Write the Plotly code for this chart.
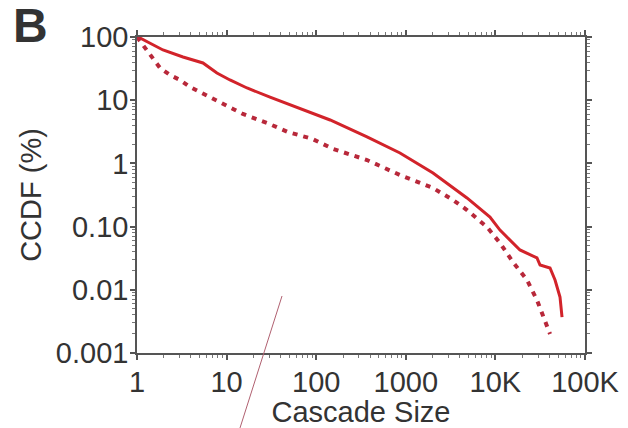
import plotly.graph_objects as go

# Cascade size (x) and CCDF in percent (y)
solid_size = [1, 1.08, 1.95, 3.26, 5.45, 7.8, 10.9, 16.9, 30.5, 61, 143, 369, 861,
              2013, 4818, 8700, 11250, 18800, 29100, 31500, 40700, 46300, 52600, 55400]
solid_ccdf = [100, 96.4, 62.3, 48.2, 38.8, 26.9, 20.9, 15.6, 11.2, 7.8, 4.86, 2.62, 1.46,
              0.705, 0.284, 0.142, 0.088, 0.0427, 0.0319, 0.0247, 0.0221, 0.0143, 0.0077, 0.0037]

dotted_size = [1, 1.23, 1.51, 1.81, 2.33, 3.02, 3.9, 5.05, 6.87, 9.12, 11.8, 15.2, 28.3,
               48.4, 89.8, 154, 369, 861, 2013, 3365, 4818, 8050, 11250, 15700, 22500,
               29100, 34000, 40700]
dotted_ccdf = [100, 67, 46.5, 32.3, 25.1, 20.9, 16.2, 13.5, 10.8, 9.04, 7.26, 6.05, 4.36,
               3.14, 2.45, 1.7, 1.13, 0.655, 0.408, 0.264, 0.183, 0.0986, 0.055, 0.0275,
               0.0143, 0.0069, 0.0037, 0.002]

x_tickvals = [1, 10, 100, 1000, 10000, 100000]
x_ticktext = ["1", "10", "100", "1000", "10K", "100K"]
y_tickvals = [0.001, 0.01, 0.1, 1, 10, 100]
y_ticktext = ["0.001", "0.01", "0.10", "1", "10", "100"]

FONT = "Liberation Sans, Arial, sans-serif"

fig = go.Figure()
fig.add_trace(go.Scatter(x=solid_size, y=solid_ccdf, mode="lines",
                         line=dict(color="#d2232a", width=3), showlegend=False))
fig.add_trace(go.Scatter(x=dotted_size, y=dotted_ccdf, mode="lines",
                         line=dict(color="#b8283a", width=4, dash="5px,6px"), showlegend=False))

axis_common = dict(
    showline=True, linecolor="#555555", linewidth=1.5, mirror="allticks",
    ticks="outside", ticklen=5, tickwidth=1.5, tickcolor="#555555",
    showgrid=False, zeroline=False, automargin=False,
    tickfont=dict(family=FONT, size=29, color="#333333"),
    minor=dict(ticks="outside", ticklen=3, tickwidth=1, tickcolor="#777777", dtick="D1", showgrid=False),
)

fig.update_xaxes(type="log", range=[0, 5], tickmode="array", tickvals=x_tickvals, ticktext=x_ticktext,
                 ticklabelstandoff=-3,
                 title=dict(text="Cascade Size", standoff=2,
                            font=dict(family=FONT, size=29, color="#333333")),
                 **axis_common)
fig.update_yaxes(type="log", range=[-3, 2], tickmode="array", tickvals=y_tickvals, ticktext=y_ticktext,
                 ticklabelstandoff=-4,
                 title=dict(text="CCDF (%)", standoff=6,
                            font=dict(family=FONT, size=29, color="#333333")),
                 **axis_common)

fig.add_annotation(text="<b>B</b>", xref="paper", yref="paper", x=-0.237, y=1.035,
                   xanchor="center", yanchor="middle", showarrow=False,
                   font=dict(family="Liberation Sans Narrow, Liberation Sans, Arial, sans-serif",
                             size=48, color="#333333"))

# thin stray line visible in the reference image
fig.add_shape(type="line", xref="paper", yref="paper", x0=0.3237, y0=0.1804, x1=0.2299, y1=-0.2373,
              line=dict(color="#b06070", width=1))

fig.update_layout(width=628, height=428, margin=dict(l=137, r=43, t=37, b=75),
                  paper_bgcolor="white", plot_bgcolor="white")

fig.write_html("out.html")
